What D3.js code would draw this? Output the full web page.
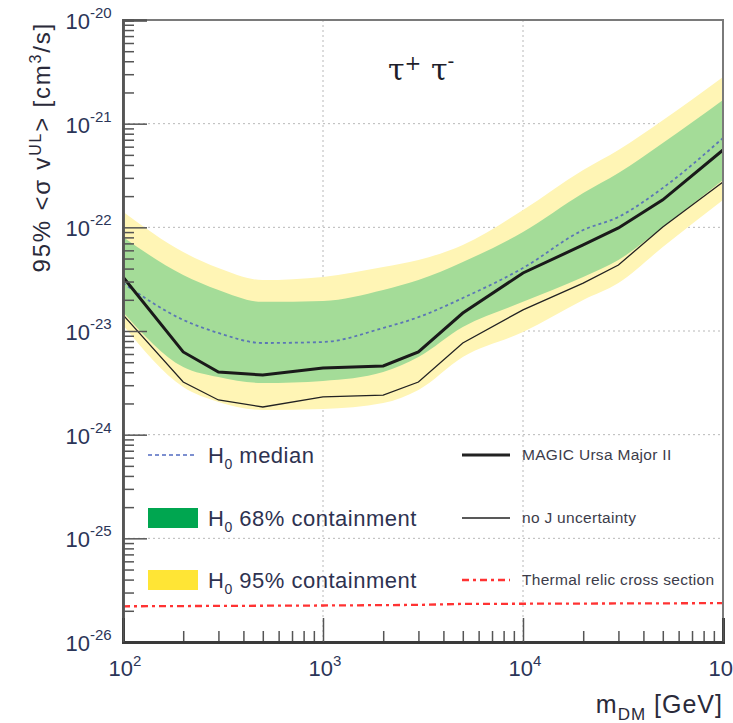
<!DOCTYPE html>
<html>
<head>
<meta charset="utf-8">
<script src="https://cdn.jsdelivr.net/npm/d3@7"></script>
<style>
  body { margin: 0; background: #fff; }
  svg { display: block; font-family: "Liberation Sans", Arial, sans-serif; }
</style>
</head>
<body>
<svg width="733" height="723"></svg>
<script>
// values (mass in GeV, <sigma v> in cm^3/s)
var masses   = [100, 200, 300, 500, 1000, 2000, 3000, 5000, 1e4, 2e4, 3e4, 5e4, 1e5];
var limit    = [3.32e-23, 6.28e-24, 4.02e-24, 3.76e-24, 4.40e-24, 4.60e-24, 6.28e-24, 1.49e-23, 3.63e-23, 6.76e-23, 9.86e-23, 1.84e-22, 5.57e-22];
var noJ      = [1.43e-23, 3.22e-24, 2.16e-24, 1.85e-24, 2.31e-24, 2.41e-24, 3.22e-24, 7.66e-24, 1.60e-23, 2.90e-23, 4.33e-23, 1.01e-22, 2.74e-22];
var median   = [2.90e-23, 1.28e-23, 9.57e-24, 7.66e-24, 7.83e-24, 1.07e-23, 1.36e-23, 2.08e-23, 4.05e-23, 9.42e-23, 1.26e-22, 2.40e-22, 7.27e-22];
var band68Hi = [8.07e-23, 3.47e-23, 2.49e-23, 1.91e-23, 1.95e-23, 2.49e-23, 3.10e-23, 4.63e-23, 9.02e-23, 2.14e-22, 3.34e-22, 6.51e-22, 1.69e-21];
var band68Lo = [1.52e-23, 4.50e-24, 3.60e-24, 3.15e-24, 3.30e-24, 4.02e-24, 5.61e-24, 1.09e-23, 1.91e-23, 3.32e-23, 4.84e-23, 1.01e-22, 2.86e-22];
var band95Hi = [1.41e-22, 5.78e-23, 4.05e-23, 3.10e-23, 3.32e-23, 4.14e-23, 4.84e-23, 6.76e-23, 1.47e-22, 3.57e-22, 5.57e-22, 1.08e-21, 2.82e-21];
var band95Lo = [1.14e-23, 2.88e-24, 2.07e-24, 1.73e-24, 1.77e-24, 2.02e-24, 2.70e-24, 5.61e-24, 9.78e-24, 1.99e-23, 2.90e-23, 6.46e-23, 1.84e-22];
var relicMass = [100, 1000, 3000, 5000, 1e5];
var relic     = [2.21e-26, 2.25e-26, 2.28e-26, 2.33e-26, 2.37e-26];

var xExps = [2, 3, 4, 5];
var yExps = [-26, -25, -24, -23, -22, -21, -20];

var svg = d3.select("svg"),
    pLeft = 123, pRight = 723, pTop = 20, pBottom = 642;

var x = d3.scaleLog().domain([100, 1e5]).range([pLeft, pRight]);
var y = d3.scaleLog().domain([1e-26, 1e-20]).range([pBottom, pTop]);

var labelColor = "#2b3558";

// grid
var g = svg.append("g");
g.selectAll(".gx").data(xExps.slice(1, 3)).enter().append("line")
    .attr("x1", function (d) { return x(Math.pow(10, d)); })
    .attr("x2", function (d) { return x(Math.pow(10, d)); })
    .attr("y1", pTop).attr("y2", pBottom)
    .attr("stroke", "#b8b8b8").attr("stroke-dasharray", "2,3");
g.selectAll(".gy").data(yExps.slice(1, 6)).enter().append("line")
    .attr("y1", function (d) { return y(Math.pow(10, d)); })
    .attr("y2", function (d) { return y(Math.pow(10, d)); })
    .attr("x1", pLeft).attr("x2", pRight)
    .attr("stroke", "#b8b8b8").attr("stroke-dasharray", "2,3");

// bands
function band(lo, hi) {
    return d3.area()
        .x(function (d, i) { return x(masses[i]); })
        .y0(function (d, i) { return y(lo[i]); })
        .y1(function (d, i) { return y(hi[i]); })
        .curve(d3.curveMonotoneX)(masses);
}
g.append("path").attr("d", band(band95Lo, band95Hi)).attr("fill", "#fff5b5");
g.append("path").attr("d", band(band68Lo, band68Hi)).attr("fill", "#a4dc98");

function line(vals, xs, curve) {
    return d3.line()
        .x(function (d, i) { return x(xs[i]); })
        .y(function (d) { return y(d); })
        .curve(curve)(vals);
}
g.append("path").attr("d", line(median, masses, d3.curveMonotoneX))
    .attr("fill", "none").attr("stroke", "#5b76b5").attr("stroke-width", 1.8)
    .attr("stroke-dasharray", "3,3");
g.append("path").attr("d", line(noJ, masses, d3.curveLinear))
    .attr("fill", "none").attr("stroke", "#222").attr("stroke-width", 1.3);
g.append("path").attr("d", line(limit, masses, d3.curveLinear))
    .attr("fill", "none").attr("stroke", "#1a1a1a").attr("stroke-width", 3);
g.append("path").attr("d", line(relic, relicMass, d3.curveLinear))
    .attr("fill", "none").attr("stroke", "#ff3333").attr("stroke-width", 2.3)
    .attr("stroke-dasharray", "7,4,3,4");

// frame
svg.append("rect").attr("x", pLeft).attr("y", pTop)
    .attr("width", pRight - pLeft).attr("height", pBottom - pTop)
    .attr("fill", "none").attr("stroke", "#7a7a7a").attr("stroke-width", 2);

// ticks (pointing inwards)
function notDecade(d) {
    return Math.abs(Math.log10(d) - Math.round(Math.log10(d))) > 1e-6;
}
var yMinor = d3.axisLeft(y).tickValues(y.ticks().filter(notDecade)).tickSize(-11).tickFormat("");
var yMajor = d3.axisLeft(y).tickValues(yExps.map(function (e) { return Math.pow(10, e); }))
    .tickSize(-24).tickFormat("");
var xMinor = d3.axisBottom(x).tickValues(x.ticks().filter(notDecade)).tickSize(-11).tickFormat("");
var xMajor = d3.axisBottom(x).tickValues(xExps.map(function (e) { return Math.pow(10, e); }))
    .tickSize(-24).tickFormat("");

[yMinor, yMajor].forEach(function (a) {
    svg.append("g").attr("transform", "translate(" + pLeft + ",0)").call(a)
        .call(function (s) {
            s.select(".domain").attr("stroke", "#555").attr("stroke-width", 2.5);
            s.selectAll(".tick line").attr("stroke", "#555").attr("stroke-width", 1.5);
        });
});
[xMinor, xMajor].forEach(function (a) {
    svg.append("g").attr("transform", "translate(0," + pBottom + ")").call(a)
        .call(function (s) {
            s.select(".domain").attr("stroke", "#3a3a3a").attr("stroke-width", 3);
            s.selectAll(".tick line").attr("stroke", "#555").attr("stroke-width", 1.5);
        });
});

// tick labels
svg.selectAll(".ylab").data(yExps).enter().append("text")
    .attr("x", 90).attr("y", function (d) { return y(Math.pow(10, d)) + 9; })
    .attr("text-anchor", "end").attr("fill", labelColor).attr("font-size", 22)
    .text("10");
svg.selectAll(".yexp").data(yExps).enter().append("text")
    .attr("x", 90).attr("y", function (d) { return y(Math.pow(10, d)) - 2; })
    .attr("fill", labelColor).attr("font-size", 15)
    .text(function (d) { return d; });

var xl = svg.selectAll(".xlab").data(xExps).enter().append("text")
    .attr("x", function (d) { return x(Math.pow(10, d)) + 2; })
    .attr("y", 676).attr("text-anchor", "middle")
    .attr("fill", labelColor).attr("font-size", 22);
xl.append("tspan").text("10");
xl.append("tspan").attr("dy", -10).attr("font-size", 15).text(function (d) { return d; });

// axis titles
var xt = svg.append("text").attr("x", 723).attr("y", 713).attr("text-anchor", "end")
    .attr("fill", "#2a2a3a").attr("font-size", 25).attr("letter-spacing", 1);
xt.append("tspan").text("m");
xt.append("tspan").attr("dy", 7).attr("font-size", 17).text("DM");
xt.append("tspan").attr("dy", -7).text(" [GeV]");

var yt = svg.append("text").attr("transform", "translate(50,22) rotate(-90)")
    .attr("text-anchor", "end").attr("fill", "#2a2a3a").attr("font-size", 24)
    .attr("letter-spacing", 1.8);
yt.append("tspan").text("95% <\u03c3 v");
yt.append("tspan").attr("dy", -9).attr("font-size", 16).text("UL");
yt.append("tspan").attr("dy", 9).text("> [cm");
yt.append("tspan").attr("dy", -9).attr("font-size", 16).text("3");
yt.append("tspan").attr("dy", 9).text("/s]");

// channel label
var ch = svg.append("text").attr("x", 388).attr("y", 80)
    .attr("font-family", "'DejaVu Serif', 'Liberation Serif', serif")
    .attr("fill", "#1e1e2a").attr("font-size", 30);
ch.append("tspan").text("\u03c4");
ch.append("tspan").attr("dy", -10).attr("font-size", 20).text("+");
ch.append("tspan").attr("dy", 10).text(" \u03c4");
ch.append("tspan").attr("dy", -12).attr("font-size", 20).text("-");

// legend, left column
var legL = [
    {label: "median", kind: "dash", y: 455},
    {label: "68% containment", kind: "green", y: 518},
    {label: "95% containment", kind: "yellow", y: 580}
];
legL.forEach(function (d) {
    if (d.kind == "dash") {
        svg.append("line").attr("x1", 148).attr("x2", 197).attr("y1", d.y).attr("y2", d.y)
            .attr("stroke", "#7c8fd0").attr("stroke-width", 2).attr("stroke-dasharray", "4,3");
    } else {
        svg.append("rect").attr("x", 148).attr("y", d.y - 10).attr("width", 50).attr("height", 20)
            .attr("fill", d.kind == "green" ? "#00a650" : "#ffe535");
    }
    var t = svg.append("text").attr("x", 208).attr("y", d.y + 8)
        .attr("fill", "#2e3250").attr("font-size", 22).attr("letter-spacing", 0.5);
    t.append("tspan").text("H");
    t.append("tspan").attr("dy", 6).attr("font-size", 14).text("0");
    t.append("tspan").attr("dy", -6).text(" " + d.label);
});

// legend, right column
var legR = [
    {label: "MAGIC Ursa Major II", w: 3, dash: null, color: "#222", y: 455},
    {label: "no J uncertainty", w: 1.3, dash: null, color: "#222", y: 518},
    {label: "Thermal relic cross section", w: 2.3, dash: "7,4,3,4", color: "#ff3333", y: 580}
];
legR.forEach(function (d) {
    svg.append("line").attr("x1", 462).attr("x2", 510).attr("y1", d.y).attr("y2", d.y)
        .attr("stroke", d.color).attr("stroke-width", d.w).attr("stroke-dasharray", d.dash);
    svg.append("text").attr("x", 522).attr("y", d.y + 5)
        .attr("fill", "#3c3c4a").attr("font-size", 15.5).attr("letter-spacing", 0.3)
        .text(d.label);
});
</script>
</body>
</html>
